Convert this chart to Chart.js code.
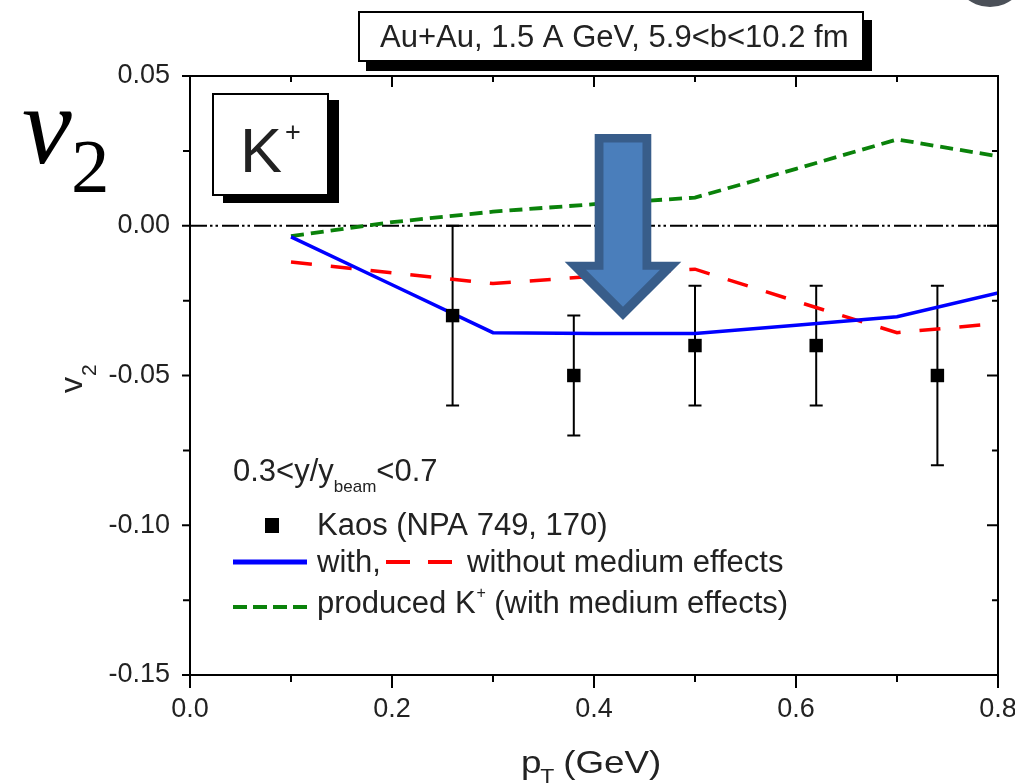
<!DOCTYPE html>
<html>
<head>
<meta charset="utf-8">
<script src="https://cdn.jsdelivr.net/npm/chart.js@4.4.1/dist/chart.umd.min.js"></script>
<style>
html,body{margin:0;padding:0;background:#fff;}
#wrap{width:1015px;height:784px;}
</style>
</head>
<body>
<div id="wrap"><canvas id="c" width="1015" height="784"></canvas></div>
<script>
// ---- data ----
const kaosX   = [0.26, 0.38, 0.50, 0.62, 0.74];
const kaosY   = [-0.030, -0.050, -0.040, -0.040, -0.050];
const kaosErr = [0.030, 0.020, 0.020, 0.020, 0.030];

const modelX        = [0.1, 0.2, 0.3, 0.4, 0.5, 0.6, 0.7, 0.8];
const withMedium    = [-0.0037, -0.0197, -0.0357, -0.0360, -0.0360, -0.0332, -0.0304, -0.0224];
const withoutMedium = [-0.0121, -0.0157, -0.0193, -0.0169, -0.0145, -0.0252, -0.0357, -0.0326];
const producedK     = [-0.0035, 0.0012, 0.0047, 0.0072, 0.0094, 0.0190, 0.0288, 0.0232];

const zeroX = [0.0, 0.8];
const zeroY = [0.0, 0.0];

const xTickValues = [0.0, 0.2, 0.4, 0.6, 0.8];
const xTickLabels = ['0.0', '0.2', '0.4', '0.6', '0.8'];
const yTickValues = [0.05, 0.0, -0.05, -0.10, -0.15];
const yTickLabels = ['0.05', '0.00', '-0.05', '-0.10', '-0.15'];

// arrow anchor (data coords)
const arrowX = [0.4287];
const arrowTopY = [0.0306];
const arrowTipY = [-0.0315];

const FONT = "'Liberation Sans', Arial, Helvetica, sans-serif";
const SERIF = "'Liberation Serif', 'Times New Roman', serif";
const TXT = '#222';

function pts(xs, ys){ return xs.map((x,i)=>({x:x, y:ys[i]})); }
function labelFor(v, vals, labs){
  for (let i=0;i<vals.length;i++) if (Math.abs(vals[i]-v) < 1e-7) return labs[i];
  return '';
}

const overlay = {
  id: 'overlay',
  beforeDatasetsDraw(chart){
    const ctx = chart.ctx, xs = chart.scales.x, ys = chart.scales.y;
    ctx.save();
    ctx.strokeStyle = '#000';
    ctx.lineWidth = 2;
    for (let i=0;i<kaosX.length;i++){
      const px = xs.getPixelForValue(kaosX[i]);
      const p1 = ys.getPixelForValue(kaosY[i]+kaosErr[i]);
      const p2 = ys.getPixelForValue(kaosY[i]-kaosErr[i]);
      ctx.beginPath();
      ctx.moveTo(px, p1); ctx.lineTo(px, p2);
      ctx.moveTo(px-6.5, p1); ctx.lineTo(px+6.5, p1);
      ctx.moveTo(px-6.5, p2); ctx.lineTo(px+6.5, p2);
      ctx.stroke();
    }
    ctx.restore();
  },
  afterDraw(chart){
    const ctx = chart.ctx, a = chart.chartArea, xs = chart.scales.x, ys = chart.scales.y;
    ctx.save();
    ctx.strokeStyle = '#000';
    ctx.lineWidth = 2;
    ctx.strokeRect(a.left, a.top, a.right-a.left, a.bottom-a.top);
    xs.ticks.forEach(t=>{
      const px = xs.getPixelForValue(t.value);
      const major = labelFor(t.value, xTickValues, xTickLabels) !== '';
      ctx.beginPath();
      ctx.moveTo(px, a.bottom); ctx.lineTo(px, a.bottom + (major?13:7));
      ctx.moveTo(px, a.top); ctx.lineTo(px, a.top + (major?11:6));
      ctx.stroke();
    });
    ys.ticks.forEach(t=>{
      const py = ys.getPixelForValue(t.value);
      const major = labelFor(t.value, yTickValues, yTickLabels) !== '';
      ctx.beginPath();
      ctx.moveTo(a.left, py); ctx.lineTo(a.left - (major?8:7), py);
      ctx.moveTo(a.right, py); ctx.lineTo(a.right - (major?11:6), py);
      ctx.stroke();
    });

    // top title box with shadow
    ctx.fillStyle = '#000';
    ctx.fillRect(366, 20, 506, 51);
    ctx.fillStyle = '#fff';
    ctx.fillRect(359, 12, 504, 49);
    ctx.lineWidth = 2;
    ctx.strokeRect(359, 12, 504, 49);
    ctx.fillStyle = TXT;
    ctx.font = '31px ' + FONT;
    ctx.textBaseline = 'alphabetic';
    ctx.textAlign = 'left';
    ctx.fillText('Au+Au, 1.5 A GeV, 5.9<b<10.2 fm', 380, 47);

    // K+ box with shadow
    ctx.fillStyle = '#000';
    ctx.fillRect(223, 100, 116, 103);
    ctx.fillStyle = '#fff';
    ctx.fillRect(213, 94, 115, 101);
    ctx.strokeRect(213, 94, 115, 101);
    ctx.fillStyle = TXT;
    ctx.font = '63px ' + FONT;
    ctx.fillText('K', 240, 172);
    ctx.font = '27px ' + FONT;
    ctx.fillText('+', 285, 141);

    // big v2
    ctx.fillStyle = '#000';
    ctx.font = 'italic 112px ' + SERIF;
    ctx.fillText('v', 22, 163);
    ctx.font = '77px ' + SERIF;
    ctx.fillText('2', 71, 192);

    // y axis title (rotated)
    ctx.save();
    ctx.translate(82, 393);
    ctx.rotate(-Math.PI/2);
    ctx.fillStyle = TXT;
    ctx.font = '32px ' + FONT;
    ctx.fillText('v', 0, 0);
    const vw = ctx.measureText('v').width;
    ctx.font = '21px ' + FONT;
    ctx.fillText('2', vw + 1, 14);
    ctx.restore();

    // x axis title (slightly wide, as in the picture)
    ctx.save();
    ctx.translate(521, 773);
    ctx.scale(1.15, 1);
    ctx.fillStyle = TXT;
    ctx.font = '32px ' + FONT;
    ctx.fillText('p', 0, 0);
    let w = ctx.measureText('p').width;
    ctx.font = '20px ' + FONT;
    ctx.fillText('T', w - 1, 10);
    ctx.font = '32px ' + FONT;
    ctx.fillText(' (GeV)', w + 10, 0);
    ctx.restore();

    // legend block
    ctx.fillStyle = TXT;
    ctx.font = '31px ' + FONT;
    ctx.fillText('0.3<y/y', 233, 481);
    w = ctx.measureText('0.3<y/y').width;
    ctx.font = '17px ' + FONT;
    ctx.fillText('beam', 233 + w, 492);
    const w2 = ctx.measureText('beam').width;
    ctx.font = '31px ' + FONT;
    ctx.fillText('<0.7', 233 + w + w2, 481);

    ctx.fillStyle = '#000';
    ctx.fillRect(265, 518, 14, 15);
    ctx.fillStyle = TXT;
    ctx.font = '31px ' + FONT;
    ctx.fillText('Kaos (NPA 749, 170)', 317, 535);

    ctx.strokeStyle = '#0000ff'; ctx.lineWidth = 5; ctx.setLineDash([]);
    ctx.beginPath(); ctx.moveTo(233, 562); ctx.lineTo(307, 562); ctx.stroke();
    ctx.fillText('with,', 317, 572);
    ctx.strokeStyle = '#ff0000'; ctx.lineWidth = 4; ctx.setLineDash([24, 18]);
    ctx.beginPath(); ctx.moveTo(386, 562); ctx.lineTo(452, 562); ctx.stroke();
    ctx.setLineDash([]);
    ctx.fillText('without medium effects', 467, 572);

    ctx.strokeStyle = '#0a820a'; ctx.lineWidth = 4; ctx.setLineDash([14, 6]);
    ctx.beginPath(); ctx.moveTo(233, 607); ctx.lineTo(307, 607); ctx.stroke();
    ctx.setLineDash([]);
    ctx.fillText('produced K', 317, 613);
    w = ctx.measureText('produced K').width;
    ctx.font = '16px ' + FONT;
    ctx.fillText('+', 317 + w + 1, 598);
    ctx.font = '31px ' + FONT;
    ctx.fillText(' (with medium effects)', 317 + w + 10, 613);

    // arrow overlay
    const cx = xs.getPixelForValue(arrowX[0]);
    const top = ys.getPixelForValue(arrowTopY[0]);
    const tip = ys.getPixelForValue(arrowTipY[0]);
    function arrowPath(sh, hh, t, tp){
      const hb = tp - hh;
      ctx.beginPath();
      ctx.moveTo(cx - sh, t);
      ctx.lineTo(cx + sh, t);
      ctx.lineTo(cx + sh, hb);
      ctx.lineTo(cx + hh, hb);
      ctx.lineTo(cx, tp);
      ctx.lineTo(cx - hh, hb);
      ctx.lineTo(cx - sh, hb);
      ctx.closePath();
    }
    ctx.fillStyle = '#385d8a';
    arrowPath(28.3, 58.3, top, tip); ctx.fill();
    ctx.fillStyle = '#4a7ebb';
    arrowPath(19.5, 37, top + 8.5, tip - 13.3); ctx.fill();

    // grey blob at top right
    ctx.fillStyle = '#4b5058';
    ctx.beginPath(); ctx.arc(990, -30, 37, 0, Math.PI*2); ctx.fill();

    ctx.restore();
  }
};

Chart.defaults.font.family = FONT;
Chart.defaults.color = TXT;

new Chart(document.getElementById('c'), {
  type: 'scatter',
  data: {
    datasets: [
      { label: 'zero', data: pts(zeroX, zeroY), showLine: true, borderColor: '#000', borderWidth: 1.8,
        borderDash: [17, 3, 2.5, 3, 2.5, 4], pointRadius: 0, order: 5 },
      { label: 'produced K+ (with medium effects)', data: pts(modelX, producedK), showLine: true,
        borderColor: '#0a820a', borderWidth: 3.8, borderDash: [13, 7], pointRadius: 0, tension: 0, order: 4 },
      { label: 'without medium effects', data: pts(modelX, withoutMedium), showLine: true,
        borderColor: '#ff0000', borderWidth: 3.5, borderDash: [21, 19], pointRadius: 0, tension: 0, order: 3 },
      { label: 'with medium effects', data: pts(modelX, withMedium), showLine: true,
        borderColor: '#0000ff', borderWidth: 3.5, pointRadius: 0, tension: 0, order: 2 },
      { label: 'Kaos (NPA 749, 170)', data: pts(kaosX, kaosY), showLine: false,
        pointStyle: 'rect', pointRadius: 9.5, pointBackgroundColor: '#000', pointBorderWidth: 0, order: 1 }
    ]
  },
  options: {
    responsive: false,
    animation: false,
    devicePixelRatio: 1,
    layout: { padding: { top: 76, right: 17, left: 0, bottom: 0 } },
    plugins: { legend: { display: false }, tooltip: { enabled: false } },
    scales: {
      x: {
        type: 'linear', min: 0, max: 0.8,
        grid: { display: false, drawTicks: false },
        border: { display: false },
        ticks: {
          stepSize: 0.1, autoSkip: false, maxRotation: 0, padding: 18,
          font: { size: 27 }, color: TXT,
          callback: (v) => labelFor(v, xTickValues, xTickLabels)
        },
        afterFit: (s) => { s.height = 109; s.paddingLeft = 0; s.paddingRight = 0; }
      },
      y: {
        type: 'linear', min: -0.15, max: 0.05,
        grid: { display: false, drawTicks: false },
        border: { display: false },
        ticks: {
          stepSize: 0.025, autoSkip: false, padding: 20,
          font: { size: 27 }, color: TXT,
          callback: (v) => labelFor(v, yTickValues, yTickLabels)
        },
        afterFit: (s) => { s.width = 190; s.paddingTop = 0; s.paddingBottom = 0; }
      }
    }
  },
  plugins: [overlay]
});
</script>
</body>
</html>
